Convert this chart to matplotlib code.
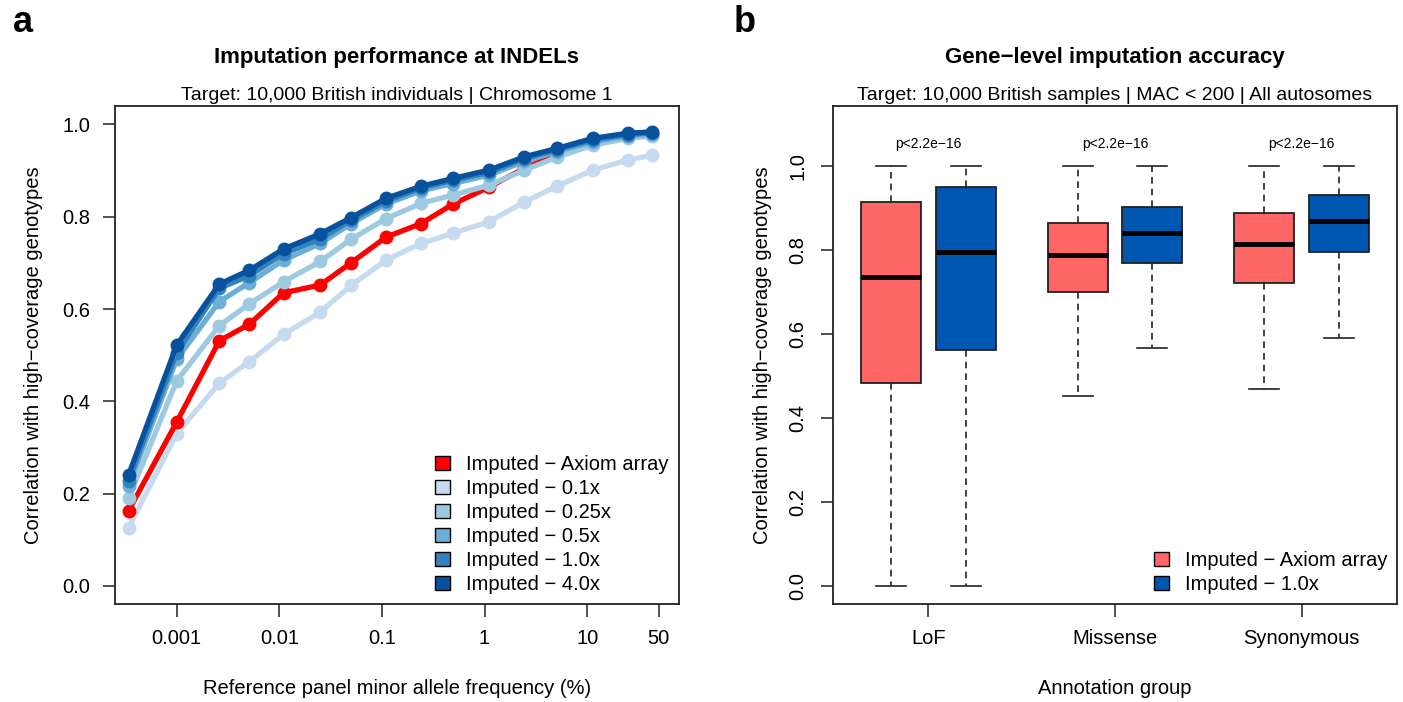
import matplotlib
matplotlib.use("Agg")
import matplotlib.pyplot as plt
from matplotlib.patches import Patch

plt.rcParams['font.family'] = ['Liberation Sans', 'DejaVu Sans']

### Panel a: correlation vs reference panel MAF (%)
maf = [0.00034, 0.001, 0.0026, 0.0051, 0.011, 0.025, 0.05, 0.11,
       0.24, 0.49, 1.1, 2.45, 5.05, 11.4, 24.9, 42.7]
axiom = [0.163, 0.355, 0.531, 0.567, 0.635, 0.652, 0.700, 0.756,
         0.785, 0.827, 0.864, 0.905, 0.935, 0.958, 0.972, 0.978]
cov01 = [0.126, 0.330, 0.439, 0.486, 0.545, 0.593, 0.651, 0.706,
         0.742, 0.764, 0.789, 0.832, 0.866, 0.901, 0.923, 0.933]
cov025 = [0.191, 0.444, 0.564, 0.611, 0.659, 0.703, 0.751, 0.796,
          0.829, 0.847, 0.868, 0.901, 0.929, 0.955, 0.970, 0.975]
cov05 = [0.217, 0.491, 0.616, 0.657, 0.706, 0.742, 0.785, 0.828,
         0.856, 0.872, 0.890, 0.920, 0.941, 0.962, 0.975, 0.979]
cov1 = [0.228, 0.505, 0.645, 0.672, 0.720, 0.752, 0.792, 0.834,
        0.862, 0.879, 0.896, 0.926, 0.945, 0.966, 0.978, 0.982]
cov4 = [0.241, 0.522, 0.654, 0.684, 0.730, 0.763, 0.798, 0.840,
        0.866, 0.883, 0.901, 0.930, 0.948, 0.970, 0.981, 0.984]

legend_a = ["Imputed \u2212 Axiom array", "Imputed \u2212 0.1x", "Imputed \u2212 0.25x",
            "Imputed \u2212 0.5x", "Imputed \u2212 1.0x", "Imputed \u2212 4.0x"]
maf_ticks = [0.001, 0.01, 0.1, 1, 10, 50]
maf_labels = ["0.001", "0.01", "0.1", "1", "10", "50"]

### Panel b: box stats per annotation group (Axiom, 1.0x)
groups = ["LoF", "Missense", "Synonymous"]
box_whislo = [0.0, 0.0, 0.453, 0.566, 0.469, 0.590]
box_q1 = [0.484, 0.562, 0.700, 0.769, 0.722, 0.795]
box_med = [0.737, 0.797, 0.788, 0.841, 0.814, 0.870]
box_q3 = [0.916, 0.951, 0.866, 0.903, 0.890, 0.932]
box_whishi = [1.0, 1.0, 1.0, 1.0, 1.0, 1.0]
pvals = ["p<2.2e\u221216", "p<2.2e\u221216", "p<2.2e\u221216"]
legend_b = ["Imputed \u2212 Axiom array", "Imputed \u2212 1.0x"]

red = "#FF0000"
blues = ["#C6DBEF", "#9ECAE1", "#6BAED6", "#3182BD", "#08519C"]
box_cols = ["#FF6666", "#0057B2"]
edge = "#222222"

fig = plt.figure(figsize=(14.03, 7.02), dpi=100)
ax1 = fig.add_axes([115/1403, 1-604.3/702, 564/1403, 498.3/702])
ax2 = fig.add_axes([832.7/1403, 1-604.3/702, 564.6/1403, 498.3/702])

def style_axes(ax):
    for s in ax.spines.values():
        s.set_linewidth(1.3)
        s.set_color(edge)
    ax.tick_params(length=9, width=1.1, color=edge, labelsize=14.5, pad=9)

leg_kw = dict(loc='lower right', bbox_to_anchor=(1.0, 0.0), frameon=False,
              fontsize=14.5, handlelength=0.75, handleheight=0.65,
              handletextpad=0.8, labelspacing=0.25, borderaxespad=0.1)

### Panel a
lw = 3.8
ms = 9
ax1.plot(maf, cov01, '-o', color=blues[0], lw=lw, ms=ms, zorder=2)
ax1.plot(maf, axiom, '-o', color=red, lw=lw, ms=ms, zorder=3)
ax1.plot(maf, cov025, '-o', color=blues[1], lw=lw, ms=ms, zorder=4)
ax1.plot(maf, cov05, '-o', color=blues[2], lw=lw, ms=ms, zorder=5)
ax1.plot(maf, cov1, '-o', color=blues[3], lw=lw, ms=ms, zorder=6)
ax1.plot(maf, cov4, '-o', color=blues[4], lw=lw, ms=ms, zorder=7)
ax1.set_xscale('log')
ax1.set_xlim(2.503e-4, 78.6)
ax1.set_ylim(-0.04, 1.04)
ax1.set_xticks(maf_ticks)
ax1.set_xticklabels(maf_labels)
ax1.minorticks_off()
ax1.set_yticks([0, 0.2, 0.4, 0.6, 0.8, 1.0])
ax1.set_yticklabels(["0.0", "0.2", "0.4", "0.6", "0.8", "1.0"])
style_axes(ax1)
ax1.set_xlabel("Reference panel minor allele frequency (%)", fontsize=14.5, labelpad=22)
ax1.set_ylabel("Correlation with high\u2212coverage genotypes", fontsize=14.5, labelpad=14)

handles_a = [Patch(facecolor=c, edgecolor='black', lw=1) for c in [red] + blues]
ax1.legend(handles_a, legend_a, **leg_kw)

### Panel b
positions = [1, 2, 3.5, 4.5, 6, 7]
stats = []
for i in range(len(positions)):
    stats.append(dict(whislo=box_whislo[i], q1=box_q1[i], med=box_med[i],
                      q3=box_q3[i], whishi=box_whishi[i], fliers=[]))
bp = ax2.bxp(stats, positions=positions, widths=0.8, capwidths=0.4,
             patch_artist=True, showfliers=False,
             boxprops=dict(edgecolor=edge, linewidth=1.3),
             whiskerprops=dict(color=edge, linewidth=1.2, linestyle=(0, (4, 3))),
             capprops=dict(color=edge, linewidth=1.2),
             medianprops=dict(color='black', linewidth=3.5, solid_capstyle='butt'))
for i, b in enumerate(bp['boxes']):
    b.set_facecolor(box_cols[i % 2])

centers = [1.5, 4, 6.5]
for c, p in zip(centers, pvals):
    ax2.text(c, 1.053, p, ha='center', va='center', fontsize=10)

ax2.set_xlim(0.22, 7.78)
ax2.set_ylim(-0.044, 1.144)
ax2.set_xticks(centers)
ax2.set_xticklabels(groups)
ax2.set_yticks([0, 0.2, 0.4, 0.6, 0.8, 1.0])
ax2.set_yticklabels(["0.0", "0.2", "0.4", "0.6", "0.8", "1.0"], rotation=90, va='center')
style_axes(ax2)
ax2.set_xlabel("Annotation group", fontsize=14.5, labelpad=22)
ax2.set_ylabel("Correlation with high\u2212coverage genotypes", fontsize=14.5, labelpad=12)

handles_b = [Patch(facecolor=c, edgecolor='black', lw=1) for c in box_cols]
ax2.legend(handles_b, legend_b, **leg_kw)

### Titles
fig.text((115+679)/2/1403, 1-58/702, "Imputation performance at INDELs",
         ha='center', va='center', fontsize=16, fontweight='bold')
fig.text((115+679)/2/1403, 1-95/702, "Target: 10,000 British individuals | Chromosome 1",
         ha='center', va='center', fontsize=14)
fig.text((832.7+1397.3)/2/1403, 1-58/702, "Gene\u2212level imputation accuracy",
         ha='center', va='center', fontsize=16, fontweight='bold')
fig.text((832.7+1397.3)/2/1403, 1-95/702, "Target: 10,000 British samples | MAC < 200 | All autosomes",
         ha='center', va='center', fontsize=14)
fig.text(23/1403, 1-22/702, "a", ha='center', va='center', fontsize=26, fontweight='bold')
fig.text(745/1403, 1-22/702, "b", ha='center', va='center', fontsize=26, fontweight='bold')

fig.savefig("out.png", dpi=100)
